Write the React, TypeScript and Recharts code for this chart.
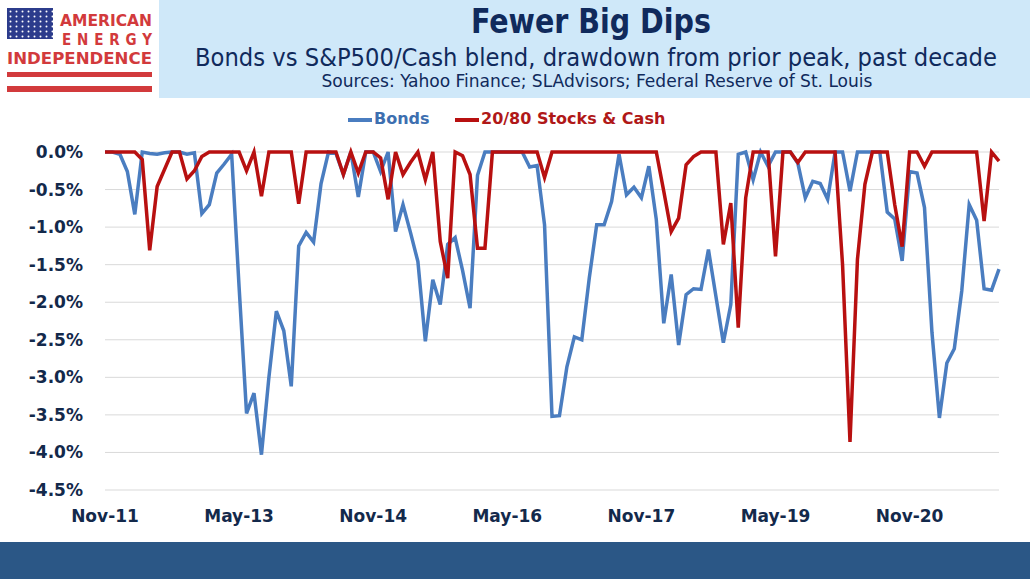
import { LineChart, Line, XAxis, YAxis, CartesianGrid } from 'recharts'

// monthly drawdown from prior peak, Nov-11 .. Nov-21 (percent)
const bonds = [
  0, 0, -0.03, -0.26, -0.83, 0, -0.02, -0.03, -0.01, 0,
  0, -0.03, -0.01, -0.82, -0.7, -0.28, -0.16, -0.03, -1.8, -3.48,
  -3.21, -4.03, -3.0, -2.12, -2.38, -3.12, -1.25, -1.07, -1.2, -0.42,
  0, -0.02, -0.3, 0, -0.6, 0, 0, -0.26, 0, -1.06,
  -0.7, -1.07, -1.46, -2.52, -1.7, -2.03, -1.23, -1.14, -1.58, -2.08,
  -0.31, 0, 0, 0, 0, 0, 0, -0.2, -0.18, -0.97,
  -3.52, -3.51, -2.86, -2.46, -2.5, -1.68, -0.97, -0.97, -0.66, -0.03,
  -0.57, -0.47, -0.61, -0.19, -0.9, -2.28, -1.63, -2.57, -1.9, -1.82,
  -1.83, -1.3, -1.92, -2.54, -2.03, -0.03, 0, -0.37, 0, -0.19,
  0, 0, 0, -0.15, -0.61, -0.39, -0.42, -0.63, 0, 0,
  -0.52, 0, 0, 0, 0, -0.8, -0.89, -1.45, -0.26, -0.28,
  -0.74, -2.4, -3.54, -2.81, -2.62, -1.85, -0.7, -0.91, -1.82, -1.84,
  -1.56,
]

const stocksCash = [
  0, 0, 0, 0, 0, -0.1, -1.31, -0.46, -0.23, 0,
  0, -0.36, -0.25, -0.06, 0, 0, 0, 0, 0, -0.25,
  0, -0.59, 0, 0, 0, 0, -0.69, 0, 0, 0,
  0, 0, -0.3, 0, -0.28, 0, 0, -0.08, -0.63, 0,
  -0.3, -0.14, 0, -0.37, 0, -1.19, -1.68, 0, -0.05, -0.3,
  -1.28, -1.28, 0, 0, 0, 0, 0, 0, 0, -0.34,
  0, 0, 0, 0, 0, 0, 0, 0, 0, 0,
  0, 0, 0, 0, 0, -0.52, -1.06, -0.88, -0.17, -0.06,
  0, 0, 0, -1.23, -0.68, -2.34, -0.61, 0, 0, 0,
  -1.39, 0, 0, -0.14, 0, 0, 0, 0, 0, -1.5,
  -3.86, -1.43, -0.43, 0, 0, 0, -0.7, -1.26, 0, 0,
  -0.19, 0, 0, 0, 0, 0, 0, 0, -0.92, 0,
  -0.12,
]

const xTicks = ['Nov-11', 'May-13', 'Nov-14', 'May-16', 'Nov-17', 'May-19', 'Nov-20']
const yTicks = [0, -0.5, -1, -1.5, -2, -2.5, -3, -3.5, -4, -4.5]

const MON = ['Jan', 'Feb', 'Mar', 'Apr', 'May', 'Jun', 'Jul', 'Aug', 'Sep', 'Oct', 'Nov', 'Dec']
const months = bonds.map((_, i) => {
  const m = (10 + i) % 12
  const y = 11 + Math.floor((10 + i) / 12)
  return `${MON[m]}-${String(y).padStart(2, '0')}`
})

const data = months.map((month, i) => ({ month, bonds: bonds[i], mix: stocksCash[i] }))

const BLUE = '#4a7dc0'
const RED = '#b81010'
const NAVY = '#13294b'
const tickStyle = { fontFamily: 'DejaVu Sans, Verdana, sans-serif', fontWeight: 700, fontSize: 17, fill: NAVY }
const narrow = "'Liberation Sans Narrow', 'DejaVu Sans Condensed', Roboto, sans-serif"

function Header() {
  return (
    <svg width={1030} height={100} style={{ position: 'absolute', left: 0, top: 0 }}>
      <defs>
        <pattern id="stars" x="9" y="10" width="6" height="5" patternUnits="userSpaceOnUse">
          <circle cx="1.5" cy="1.5" r="1" fill="#fff" />
        </pattern>
      </defs>
      <rect x={159} y={0} width={871} height={98} fill="#cfe8f9" />
      {/* logo */}
      <rect x={7} y={8} width={46} height={31} fill="#2c3c8c" />
      <rect x={7} y={8} width={46} height={31} fill="url(#stars)" />
      <g fontFamily={narrow} fontWeight={700} fill="#d23a3c">
        <text x={60} y={26} fontSize={15} textLength={92} lengthAdjust="spacingAndGlyphs">AMERICAN</text>
        <text x={62} y={45} fontSize={15} textLength={90} lengthAdjust="spacing">ENERGY</text>
        <text x={7} y={64} fontSize={15} textLength={145} lengthAdjust="spacingAndGlyphs">INDEPENDENCE</text>
      </g>
      <rect x={7} y={72} width={145} height={5} fill="#d23a3c" />
      <rect x={7} y={86} width={145} height={6} fill="#d23a3c" />
      {/* titles */}
      <g fontFamily={narrow} fill="#102a5c" textAnchor="middle">
        <text x={591} y={33} fontSize={33} fontWeight={700} textLength={240} lengthAdjust="spacingAndGlyphs">
          Fewer Big Dips
        </text>
        <text x={596} y={66} fontSize={25} textLength={802} lengthAdjust="spacingAndGlyphs">
          Bonds vs S&amp;P500/Cash blend, drawdown from prior peak, past decade
        </text>
        <text x={597} y={87} fontSize={17} textLength={551} lengthAdjust="spacingAndGlyphs">
          Sources: Yahoo Finance; SLAdvisors; Federal Reserve of St. Louis
        </text>
      </g>
    </svg>
  )
}

function LegendRow() {
  const item = { position: 'absolute' as const, top: 109, fontFamily: tickStyle.fontFamily, fontWeight: 700, fontSize: 16 }
  return (
    <>
      <div style={{ position: 'absolute', left: 348, top: 118, width: 24, height: 4, background: BLUE }} />
      <div style={{ ...item, left: 374, color: '#3d6fb0' }}>Bonds</div>
      <div style={{ position: 'absolute', left: 455, top: 118, width: 24, height: 4, background: RED }} />
      <div style={{ ...item, left: 481, color: '#b01818' }}>20/80 Stocks &amp; Cash</div>
    </>
  )
}

export default function App() {
  return (
    <div style={{ position: 'relative', width: 1030, height: 579, background: '#fff', overflow: 'hidden' }}>
      <style>{'body{margin:0}'}</style>
      <LineChart width={1030} height={579} data={data} margin={{ top: 152, right: 31, bottom: 59, left: 10 }}>
        <CartesianGrid vertical={false} stroke="#d9d9d9" strokeWidth={1} />
        <XAxis
          dataKey="month"
          ticks={xTicks}
          interval={0}
          axisLine={false}
          tickLine={false}
          tickSize={0}
          tickMargin={20}
          height={30}
          tick={tickStyle}
        />
        <YAxis
          domain={[-4.5, 0]}
          ticks={yTicks}
          interval={0}
          axisLine={false}
          tickLine={false}
          tickSize={0}
          tickMargin={22}
          width={95}
          tick={tickStyle}
          tickFormatter={(v: number) => `${v.toFixed(1)}%`}
        />
        <Line type="linear" dataKey="bonds" stroke={BLUE} strokeWidth={3.5} dot={false} isAnimationActive={false} />
        <Line type="linear" dataKey="mix" stroke={RED} strokeWidth={3.5} dot={false} isAnimationActive={false} />
      </LineChart>
      <Header />
      <LegendRow />
      <div style={{ position: 'absolute', left: 0, top: 542, width: 1030, height: 37, background: '#2b5786' }} />
    </div>
  )
}
